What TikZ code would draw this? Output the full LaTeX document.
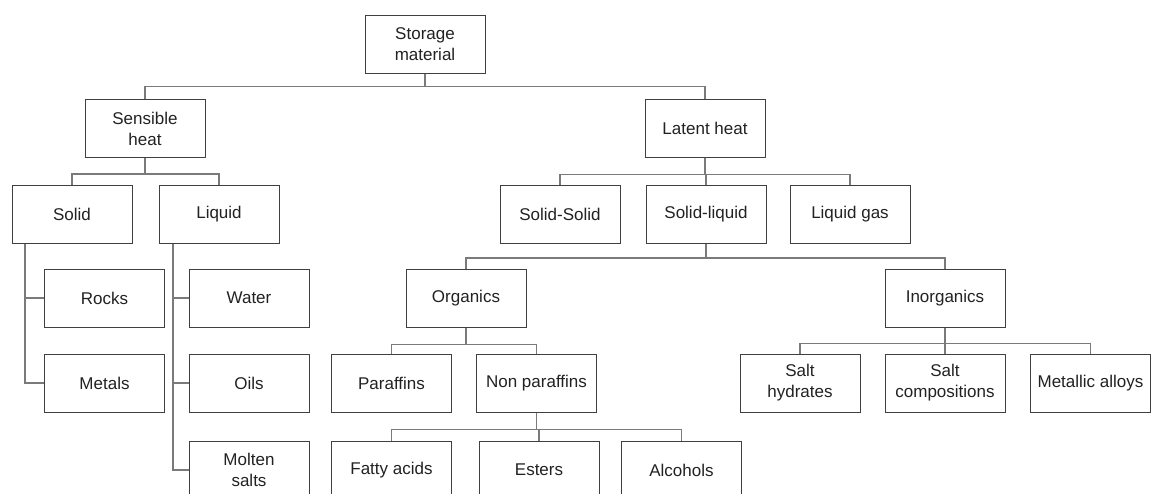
\documentclass[tikz,border=0pt]{standalone}
\usepackage{fontspec}
\setmainfont{Liberation Sans}
\definecolor{boxline}{HTML}{404040}
\definecolor{connline}{HTML}{7A7A7A}
\definecolor{txt}{HTML}{222222}
\begin{document}
\begin{tikzpicture}[x=1pt,y=-1pt,
  box/.style={draw=boxline,line width=1pt,minimum width=120pt,minimum height=58pt,
    inner sep=0pt,align=center,text=txt,font=\fontsize{17}{21}\selectfont},
  conn/.style={draw=connline,line width=1.4pt}]
\useasboundingbox (0,0) rectangle (1153,493);
\fill[white] (0,0) rectangle (1153,493);
\clip (0,0) rectangle (1153,493);
% nodes
\node[box] (storage) at (425,44) {Storage\\material};
\node[box] (sensible) at (145,128.5) {Sensible\\heat};
\node[box] (latent) at (705,128) {Latent heat};
\node[box] (solid) at (72,214.5) {Solid};
\node[box] (liquid) at (219,214.5) {Liquid};
\node[box] (solsol) at (560,214.5) {Solid-Solid};
\node[box] (solliq) at (706,214.5) {Solid-liquid};
\node[box] (liqgas) at (850,214.5) {Liquid gas};
\node[box] (rocks) at (104.5,298) {Rocks};
\node[box] (metals) at (104.5,383) {Metals};
\node[box] (water) at (249,298) {Water};
\node[box] (oils) at (249,383) {Oils};
\node[box] (molten) at (249,470) {Molten\\salts};
\node[box] (organics) at (466,298) {Organics};
\node[box] (inorganics) at (945,298) {Inorganics};
\node[box] (paraffins) at (391.5,383) {Paraffins};
\node[box] (nonpar) at (536.5,383) {Non paraffins};
\node[box] (salthyd) at (800,383) {Salt\\hydrates};
\node[box] (saltcomp) at (945,383) {Salt\\compositions};
\node[box] (metallic) at (1090.5,383) {Metallic alloys};
\node[box] (fatty) at (391.5,470) {Fatty acids};
\node[box] (esters) at (539,470) {Esters};
\node[box] (alcohols) at (681.5,470) {Alcohols};
% connectors
\draw[conn] (storage.south) -- ++(0,13) -| (sensible.north);
\draw[conn] (storage.south) -- ++(0,13) -| (latent.north);
\draw[conn] (sensible.south) -- ++(0,16) -| (solid.north);
\draw[conn] (sensible.south) -- ++(0,16) -| (liquid.north);
\draw[conn] (latent.south) -- ++(0,17) -| (solsol.north);
\draw[conn] (latent.south) -- ++(0,17) -| (solliq.north);
\draw[conn] (latent.south) -- ++(0,17) -| (liqgas.north);
\draw[conn] (solliq.south) -- ++(0,14) -| (organics.north);
\draw[conn] (solliq.south) -- ++(0,14) -| (inorganics.north);
\draw[conn] (organics.south) -- ++(0,17) -| (paraffins.north);
\draw[conn] (organics.south) -- ++(0,17) -| (nonpar.north);
\draw[conn] (inorganics.south) -- ++(0,16) -| (salthyd.north);
\draw[conn] (inorganics.south) -- ++(0,16) -| (saltcomp.north);
\draw[conn] (inorganics.south) -- ++(0,16) -| (metallic.north);
\draw[conn] (nonpar.south) -- ++(0,17) -| (fatty.north);
\draw[conn] (nonpar.south) -- ++(0,17) -| (esters.north);
\draw[conn] (nonpar.south) -- ++(0,17) -| (alcohols.north);
\draw[conn] (solid.south -| 25,0) |- (rocks.west);
\draw[conn] (solid.south -| 25,0) |- (metals.west);
\draw[conn] (liquid.south -| 173,0) |- (water.west);
\draw[conn] (liquid.south -| 173,0) |- (oils.west);
\draw[conn] (liquid.south -| 173,0) |- (molten.west);
\end{tikzpicture}
\end{document}
